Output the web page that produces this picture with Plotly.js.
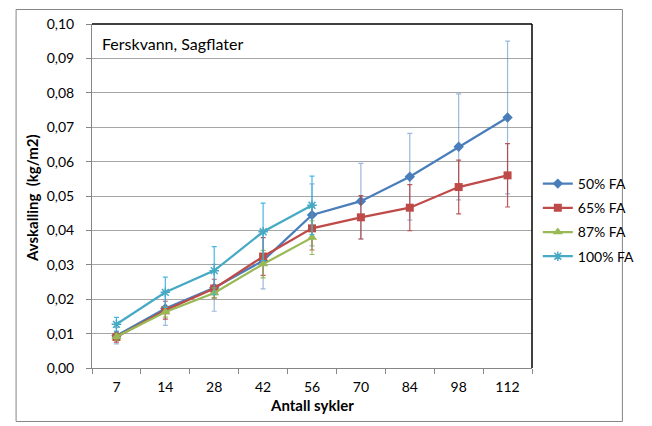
<!DOCTYPE html>
<html>
<head>
<meta charset="utf-8">
<script src="https://cdn.plot.ly/plotly-3.0.1.min.js"></script>
<style>
  html, body { margin: 0; padding: 0; background: #ffffff; }
  #chart { width: 652px; height: 426px; }
</style>
</head>
<body>
<div id="chart"></div>
<script>
// Antall sykler (cycles)
const cycles = ['7', '14', '28', '42', '56', '70', '84', '98', '112'];

// Avskalling (kg/m2), mean values per series
const fa50  = [0.0094, 0.0173, 0.0233, 0.0312, 0.0445, 0.0485, 0.0556, 0.0643, 0.0728];
const fa65  = [0.0090, 0.0168, 0.0231, 0.0324, 0.0406, 0.0438, 0.0466, 0.0526, 0.0560];
const fa87  = [0.0091, 0.0163, 0.0218, 0.0302, 0.0379];
const fa100 = [0.0127, 0.0220, 0.0283, 0.0396, 0.0473];

// Standard deviations (error bars)
const fa50Err  = [0.0024, 0.0049, 0.0068, 0.0082, 0.0090, 0.0110, 0.0126, 0.0154, 0.0222];
const fa65Err  = [0.0015, 0.0026, 0.0027, 0.0055, 0.0063, 0.0063, 0.0067, 0.0078, 0.0092];
const fa87Err  = [0.0010, 0.0015, 0.0015, 0.0040, 0.0049];
const fa100Err = [0.0020, 0.0044, 0.0070, 0.0083, 0.0085];

const seriesNames = ['50% FA', '65% FA', '87% FA', '100% FA'];

const FONT = 'Lato, "Open Sans", sans-serif';

function series(name, y, err, color, errColor, symbol, size, group) {
  return {
    type: 'scatter',
    mode: 'lines+markers',
    name: name,
    legendgroup: group,
    x: cycles.slice(0, y.length),
    y: y,
    line: { color: color, width: 2.25 },
    marker: {
      color: color,
      symbol: symbol,
      size: size,
      line: { color: color, width: symbol === 'asterisk-open' ? 1.5 : 0 }
    },
    error_y: {
      type: 'data',
      array: err,
      visible: true,
      color: errColor,
      thickness: 1.2,
      width: 2.5
    }
  };
}

const traces = [
  series(seriesNames[0], fa50, fa50Err, '#4a7ebb', 'rgba(74,126,187,0.55)', 'diamond', 8, 'g1'),
  series(seriesNames[1], fa65, fa65Err, '#be4b48', 'rgba(180,60,60,0.85)', 'square', 8, 'g2'),
  series(seriesNames[2], fa87, fa87Err, '#98b954', 'rgba(140,180,70,0.85)', 'triangle-up', 9, 'g3'),
  series(seriesNames[3], fa100, fa100Err, '#46aac5', 'rgba(50,175,225,0.9)', 'asterisk-open', 8, 'g4')
];

const L = 92, R = 547, T = 24, B = 368;
const W = 652, H = 426;
const pw = R - L, ph = B - T;
const px = v => (v - L) / pw;
const py = v => (B - v) / ph;

const layout = {
  width: W,
  height: H,
  margin: { l: L, r: W - R, t: T, b: H - B, pad: 0 },
  paper_bgcolor: '#ffffff',
  plot_bgcolor: '#ffffff',
  separators: ',.',
  font: { family: FONT, size: 14, color: '#000000' },
  showlegend: true,
  legend: {
    x: px(553),
    y: py(168),
    xanchor: 'left',
    yanchor: 'top',
    font: { family: FONT, size: 14, color: '#000000' },
    tracegroupgap: 3,
    itemwidth: 30,
    bgcolor: 'rgba(0,0,0,0)'
  },
  xaxis: {
    type: 'category',
    categoryorder: 'array',
    categoryarray: cycles,
    range: [-0.5, 8.5],
    showgrid: false,
    showline: true,
    linecolor: '#868686',
    linewidth: 1,
    ticks: 'outside',
    tickson: 'boundaries',
    ticklen: 5,
    tickcolor: '#868686',
    ticklabelstandoff: 6,
    tickfont: { family: FONT, size: 14, color: '#000000' },
    zeroline: false,
    fixedrange: true
  },
  yaxis: {
    range: [0, 0.1],
    dtick: 0.01,
    tick0: 0,
    tickformat: '.2f',
    showgrid: true,
    gridcolor: '#a6a6a6',
    gridwidth: 1,
    showline: true,
    linecolor: '#868686',
    linewidth: 1,
    ticks: 'outside',
    ticklen: 5,
    tickcolor: '#868686',
    ticklabelstandoff: 9,
    tickfont: { family: FONT, size: 14, color: '#000000' },
    zeroline: false,
    fixedrange: true
  },
  shapes: [
    // chart frame
    {
      type: 'rect', xref: 'paper', yref: 'paper',
      x0: px(13.5), x1: px(640.5), y0: py(421.5), y1: py(9.5),
      line: { color: '#868686', width: 1 }, fillcolor: 'rgba(0,0,0,0)'
    },
    // plot area top and right border
    {
      type: 'line', xref: 'paper', yref: 'paper',
      x0: 0, x1: 1, y0: 1, y1: 1,
      line: { color: '#000000', width: 1.5 }
    },
    {
      type: 'line', xref: 'paper', yref: 'paper',
      x0: 1, x1: 1, y0: 0, y1: 1,
      line: { color: '#000000', width: 1.5 }
    }
  ],
  annotations: [
    {
      text: 'Ferskvann, Sagflater',
      xref: 'paper', yref: 'paper',
      x: px(100), y: py(43),
      xanchor: 'left', yanchor: 'middle',
      showarrow: false,
      font: { family: FONT, size: 16, color: '#000000' }
    },
    {
      text: '<b>Avskalling  (kg/m2)</b>',
      xref: 'paper', yref: 'paper',
      x: px(30), y: py(198),
      xanchor: 'center', yanchor: 'middle',
      textangle: -90,
      showarrow: false,
      font: { family: FONT, size: 15, color: '#000000' }
    },
    {
      text: '<b>Antall sykler</b>',
      xref: 'paper', yref: 'paper',
      x: px(320), y: py(405),
      xanchor: 'center', yanchor: 'middle',
      showarrow: false,
      font: { family: FONT, size: 15, color: '#000000' }
    }
  ]
};

Plotly.newPlot('chart', traces, layout, { displayModeBar: false, staticPlot: true });
</script>
</body>
</html>
